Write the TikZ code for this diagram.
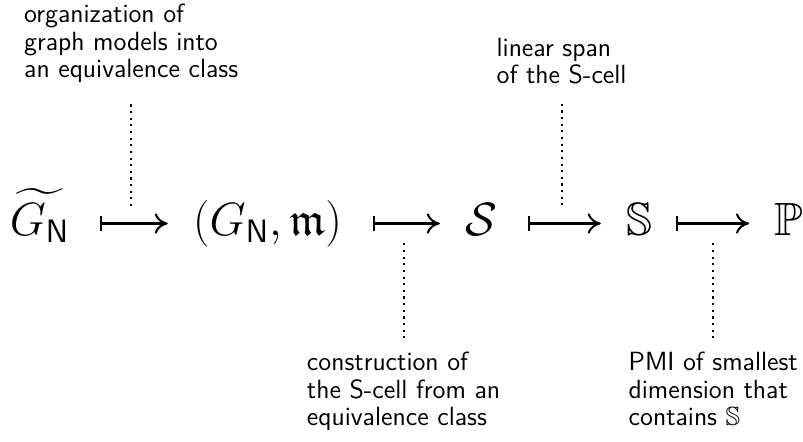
\documentclass[tikz,border=0pt]{standalone}
\usepackage{amssymb}
\usetikzlibrary{arrows.meta, positioning, calc}

\begin{document}
\begin{tikzpicture}[mth/.style={font=\huge, inner xsep=0pt, inner ysep=0pt,
      text height=0.7cm, text depth=0.34cm, anchor=base},
    mapsto/.style={line width=0.9pt, shorten <=0.48cm, shorten >=0.39cm,
      {Bar[width=6.8pt]}-{Computer Modern Rightarrow[length=5.8pt, width=9pt]}},
    note/.style={font=\sffamily\fontsize{11.7pt}{12.2pt}\selectfont, align=left, inner sep=0pt},
    hint/.style={dotted, line width=0.95pt}]
    \useasboundingbox (0,0) rectangle (12.54,-6.89);
    % --- the chain of maps ---
    \node[mth] (gt) at (0.617,-3.67) {$\widetilde{G_{\mathsf{N}}}$};
    \node[mth] (gm) at (4.178,-3.67) {$(G_{\mathsf{N}},\mathfrak{m})$};
    \node[mth] (sc) at (7.513,-3.67) {$\mathcal{S}$};
    \node[mth] (sb) at (9.981,-3.67) {$\mathbb{S}$};
    \node[mth] (pb) at (12.316,-3.67) {$\mathbb{P}$};
    \draw[mapsto] (gt) -- (gm);
    \draw[mapsto] (gm) -- (sc);
    \draw[mapsto] (sc) -- (sb);
    \draw[mapsto, shorten <=0.36cm] (sb) -- (pb);
    \coordinate (m1) at ($(gt.east)!0.5!(gm.west)$);
    \coordinate (m2) at ($(gm.east)!0.5!(sc.west)$);
    \coordinate (m3) at ($(sc.east)!0.5!(sb.west)$);
    \coordinate (m4) at ($(sb.east)!0.5!(pb.west)$);
    % --- notes above ---
    \node[note, above=2.19cm of m1] (n1) {organization of\\graph models into\\an equivalence class};
    \node[note, above=2.17cm of m3] (n3) {linear span\\of the S-cell};
    \draw[hint, shorten <=0.33cm, shorten >=0.23cm] (n1.south) -- (m1);
    \draw[hint, shorten <=0.3cm, shorten >=0.23cm] (n3.south) -- (m3);
    % --- notes below ---
    \node[note, below=2.0cm of m2] (n2) {construction of\\the S-cell from an\\equivalence class};
    \node[note, below=2.0cm of m4] (n4) {PMI of smallest\\dimension that\\contains $\mathbb{S}$};
    \draw[hint, shorten <=0.31cm, shorten >=0.14cm] (m2) -- (n2.north);
    \draw[hint, shorten <=0.31cm, shorten >=0.14cm] (m4) -- (n4.north);
  \end{tikzpicture}
\end{document}
